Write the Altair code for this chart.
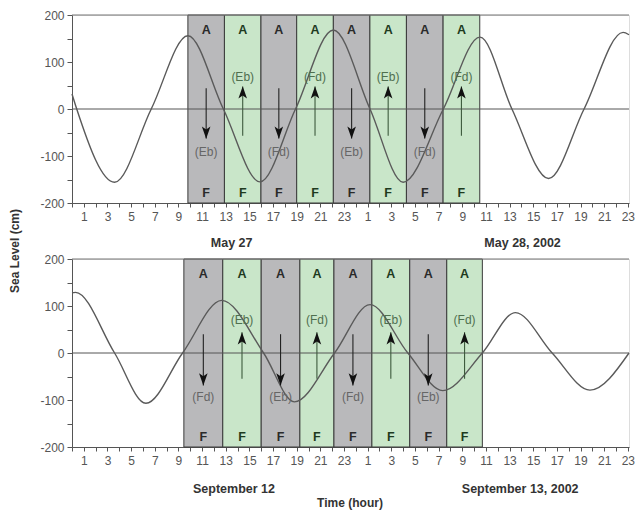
import altair as alt
import pandas as pd

# ---------------- data ----------------
# top panel (May 27-28, 2002)
top_hour = [0, 0.4, 3.6, 6.7, 9.8, 12.8, 15.9, 18.9, 22.1, 25.2, 28.0, 31.4, 34.5, 37.2, 40.3, 43.3, 46.6, 47.1]
top_level = [32, 0, -156, 0, 156, 0, -155, 0, 168, 0, -156, 0, 153, 0, -148, 0, 163, 158]
top_edges = [9.8, 12.89, 15.98, 19.0, 22.1, 25.19, 28.28, 31.38, 34.48]
top_flow = ["(Eb)", "(Eb)", "(Fd)", "(Fd)", "(Eb)", "(Eb)", "(Fd)", "(Fd)"]
top_dates = ["May  27", "May 28, 2002"]
top_date_hour = [13.5, 38.1]

# bottom panel (September 12-13, 2002)
bot_hour = [0, 0.3, 3.6, 6.25, 9.35, 12.66, 16.2, 18.8, 22.2, 25.2, 28.4, 31.35, 34.7, 37.5, 40.6, 43.8, 47.1]
bot_level = [128, 129, 0, -107, 0, 112, 0, -104, 0, 103, 0, -80, 0, 86, 0, -79, 0]
bot_edges = [9.46, 12.75, 16.0, 19.27, 22.15, 25.36, 28.56, 31.69, 34.7]
bot_flow = ["(Fd)", "(Eb)", "(Eb)", "(Fd)", "(Fd)", "(Eb)", "(Eb)", "(Fd)"]
bot_dates = ["September 12", "September 13, 2002"]
bot_date_hour = [13.7, 37.9]

band_kind = ["gray", "green", "gray", "green", "gray", "green", "gray", "green"]
top_label = "A"
bottom_label = "F"

# arrow extents (cm): down arrows in gray bands, up arrows in green bands
top_arrow = {"down": (44, -63, -92), "up": (-57, 48, 69)}
bot_arrow = {"down": (40, -69, -93), "up": (-55, 44, 70)}

y_ticks = [-200, -150, -100, -50, 0, 50, 100, 150, 200]
x_ticks = list(range(0, 48))

FONT = "Liberation Sans"
W, H = 557, 188
XDOM = [0, 47.1]
YDOM = [-200, 200]

XAXIS = alt.Axis(values=x_ticks, title=None, grid=False,
                 labelExpr="datum.value % 2 == 1 ? '' + (datum.value % 24) : ''",
                 labelOverlap=False, labelFont=FONT, labelFontSize=12,
                 labelColor="#555", tickColor="#555", domainColor="#555",
                 tickSize=4, labelPadding=4, labelAngle=0, labelFlush=False)
YAXIS = alt.Axis(values=y_ticks, title=None, grid=False,
                 labelExpr="datum.value % 100 == 0 ? '' + datum.value : ''",
                 labelFont=FONT, labelFontSize=12, labelColor="#555",
                 tickColor="#555", domainColor="#555", tickSize=5,
                 labelPadding=3, labelOverlap=False)


def panel(hours, levels, edges, flows, arrow, dates, date_hours, date_dy, extra=None):
    xs = alt.Scale(domain=XDOM, nice=False, zero=False)
    ys = alt.Scale(domain=YDOM, nice=False)

    def X(f):
        return alt.X(f, scale=xs, axis=XAXIS)

    def Y(f):
        return alt.Y(f, scale=ys, axis=YAXIS)

    curve = pd.DataFrame({"hour": hours, "level": levels})
    bands = pd.DataFrame({
        "start": edges[:-1],
        "end": edges[1:],
        "kind": band_kind,
        "flow": flows,
    })
    bands["mid"] = (bands["start"] + bands["end"]) / 2
    bands["dir"] = ["down" if k == "gray" else "up" for k in band_kind]
    bands["y0"] = [arrow[d][0] for d in bands["dir"]]
    bands["y1"] = [arrow[d][1] for d in bands["dir"]]
    bands["ly"] = [arrow[d][2] for d in bands["dir"]]
    bands["atop"] = top_label
    bands["abot"] = bottom_label
    bands["ya"] = 168
    bands["yf"] = -179

    is_gray = alt.datum.kind == "gray"

    rects = alt.Chart(bands).mark_rect(stroke="#3a3a3a", strokeWidth=1).encode(
        x=X("start:Q"),
        x2="end:Q",
        y=alt.value(0),
        y2=alt.value(H),
        color=alt.condition(is_gray, alt.value("#b9b9bb"), alt.value("#c9e6c9")),
    )

    border = alt.Chart(pd.DataFrame({"v": [200]})).mark_rule(color="#777", strokeWidth=1.2).encode(
        y=Y("v:Q")
    )
    zero = alt.Chart(pd.DataFrame({"v": [0]})).mark_rule(color="#555", strokeWidth=1).encode(
        y=Y("v:Q")
    )

    line = alt.Chart(curve).mark_line(interpolate="monotone", color="#5a5a5a", strokeWidth=1.4).encode(
        x=X("hour:Q"),
        y=Y("level:Q"),
    )

    shafts = alt.Chart(bands).mark_rule(strokeWidth=1.1).encode(
        x=X("mid:Q"),
        y=Y("y0:Q"),
        y2="y1:Q",
        color=alt.condition(is_gray, alt.value("#222"), alt.value("#3d5a3d")),
    )
    down_head = alt.Chart(bands).transform_filter(alt.datum.dir == "down").mark_point(
        shape="M0,1L0.7,-1L0,-0.5L-0.7,-1Z", filled=True, size=150, color="#111",
        opacity=1, yOffset=-6
    ).encode(x=X("mid:Q"), y=Y("y1:Q"))
    up_head = alt.Chart(bands).transform_filter(alt.datum.dir == "up").mark_point(
        shape="M0,-1L0.7,1L0,0.5L-0.7,1Z", filled=True, size=150, color="#111",
        opacity=1, yOffset=6
    ).encode(x=X("mid:Q"), y=Y("y1:Q"))

    flow_txt = alt.Chart(bands).mark_text(font=FONT, fontSize=12).encode(
        x=X("mid:Q"),
        y=Y("ly:Q"),
        text="flow:N",
        color=alt.condition(is_gray, alt.value("#666"), alt.value("#4f6f4f")),
    )
    a_txt = alt.Chart(bands).mark_text(font=FONT, fontSize=12.5, fontWeight="bold").encode(
        x=X("mid:Q"),
        y=Y("ya:Q"),
        text="atop:N",
        color=alt.condition(is_gray, alt.value("#2a2a2a"), alt.value("#1e3a1e")),
    )
    f_txt = alt.Chart(bands).mark_text(font=FONT, fontSize=12.5, fontWeight="bold").encode(
        x=X("mid:Q"),
        y=Y("yf:Q"),
        text="abot:N",
        color=alt.condition(is_gray, alt.value("#2a2a2a"), alt.value("#1e3a1e")),
    )

    date_df = pd.DataFrame({"hour": date_hours, "txt": dates})
    date_txt = alt.Chart(date_df).mark_text(font=FONT, fontSize=12.5, fontWeight="bold",
                                            color="#333").encode(
        x=X("hour:Q"),
        y=alt.value(H + date_dy),
        text="txt:N",
    )

    layers = [rects, border, zero, line, shafts, down_head, up_head,
              flow_txt, a_txt, f_txt, date_txt]
    if extra is not None:
        layers.append(extra)
    return alt.layer(*layers).properties(width=W, height=H)


ylab = alt.Chart(pd.DataFrame({"t": ["Sea Level (cm)"]})).mark_text(
    font=FONT, fontSize=12, fontWeight="bold", color="#333", angle=270
).encode(x=alt.value(-57), y=alt.value(H + 48), text="t:N")

xlab = alt.Chart(pd.DataFrame({"t": ["Time (hour)"]})).mark_text(
    font=FONT, fontSize=12, fontWeight="bold", color="#333"
).encode(x=alt.value(278), y=alt.value(H + 56), text="t:N")

top = panel(top_hour, top_level, top_edges, top_flow, top_arrow, top_dates, top_date_hour, 40, ylab)
bottom = panel(bot_hour, bot_level, bot_edges, bot_flow, bot_arrow, bot_dates, bot_date_hour, 42, xlab)

chart = alt.vconcat(top, bottom, spacing=56).properties(
    bounds="flush",
    padding={"left": 0, "top": 0, "right": 0, "bottom": 0},
).configure_view(stroke=None).configure(background="white")

chart.save("out.html", embed_options={"renderer": "svg", "actions": False})
